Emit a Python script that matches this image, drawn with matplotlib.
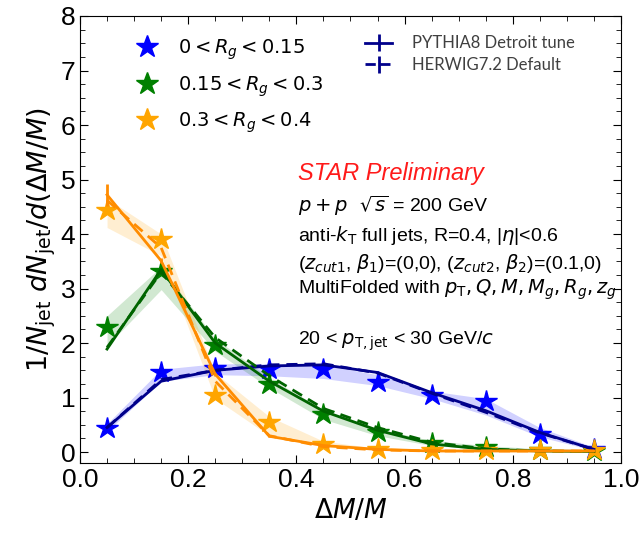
import numpy as np
import matplotlib.pyplot as plt
from matplotlib.ticker import MultipleLocator, FormatStrFormatter

plt.rcParams['font.family'] = ['Liberation Sans', 'DejaVu Sans']
plt.rcParams['mathtext.fontset'] = 'dejavusans'

# bin centres of Delta M / M
x = [0.05, 0.15, 0.25, 0.35, 0.45, 0.55, 0.65, 0.75, 0.85, 0.95]

labels = [r'$0 < R_g < 0.15$', r'$0.15 < R_g < 0.3$', r'$0.3 < R_g < 0.4$']

# STAR data (stars) and systematic band
data_rg1 = [0.45, 1.47, 1.55, 1.52, 1.52, 1.28, 1.05, 0.93, 0.33, 0.05]
band_lo_rg1 = [0.38, 1.30, 1.42, 1.40, 1.35, 1.22, 0.98, 0.68, 0.28, 0.03]
band_hi_rg1 = [0.52, 1.52, 1.62, 1.62, 1.60, 1.42, 1.12, 0.98, 0.45, 0.09]

data_rg2 = [2.30, 3.33, 1.97, 1.25, 0.70, 0.37, 0.17, 0.09, 0.04, 0.02]
band_lo_rg2 = [1.95, 2.98, 1.85, 1.18, 0.60, 0.30, 0.12, 0.05, 0.02, 0.01]
band_hi_rg2 = [2.50, 3.40, 2.08, 1.36, 0.78, 0.43, 0.21, 0.12, 0.06, 0.03]

data_rg3 = [4.44, 3.91, 1.05, 0.55, 0.14, 0.05, 0.03, 0.03, 0.03, 0.03]
band_lo_rg3 = [4.12, 3.60, 0.98, 0.30, 0.10, 0.03, 0.02, 0.02, 0.02, 0.02]
band_hi_rg3 = [4.65, 4.00, 1.45, 0.65, 0.20, 0.07, 0.04, 0.04, 0.04, 0.04]

# PYTHIA8 Detroit tune
pythia_rg1 = [0.45, 1.30, 1.50, 1.58, 1.60, 1.46, 1.09, 0.76, 0.36, 0.05]
pythia_rg2 = [1.89, 3.35, 2.00, 1.30, 0.75, 0.40, 0.15, 0.05, 0.02, 0.01]
pythia_rg3 = [4.72, 3.51, 1.43, 0.29, 0.12, 0.05, 0.02, 0.02, 0.02, 0.02]
pythia_err_rg3 = [0.20, 0.05, 0.03, 0.02, 0.01, 0.01, 0.01, 0.01, 0.01, 0.01]

# HERWIG7.2 Default
herwig_rg1 = [0.45, 1.33, 1.50, 1.60, 1.62, 1.45, 1.08, 0.73, 0.35, 0.05]
herwig_rg2 = [1.92, 3.30, 2.10, 1.40, 0.80, 0.45, 0.18, 0.06, 0.02, 0.01]
herwig_rg3 = [4.62, 3.75, 1.30, 0.30, 0.10, 0.04, 0.02, 0.02, 0.02, 0.02]

star_colors = ['#0000ff', '#008000', '#ffa500']
mc_colors = ['#00008b', '#006400', '#ff8c00']

fig = plt.figure(figsize=(6.43, 5.35), dpi=100)
ax = fig.add_axes([0.1244, 0.1346, 0.8414, 0.8355])

datasets = [
    (data_rg1, band_lo_rg1, band_hi_rg1, pythia_rg1, herwig_rg1, None),
    (data_rg2, band_lo_rg2, band_hi_rg2, pythia_rg2, herwig_rg2, None),
    (data_rg3, band_lo_rg3, band_hi_rg3, pythia_rg3, herwig_rg3, pythia_err_rg3),
]

star_handles = []
for i, (d, lo, hi, py, hw, perr) in enumerate(datasets):
    ax.fill_between(x, lo, hi, color=star_colors[i], alpha=0.18, lw=0, zorder=1)
    h, = ax.plot(x, d, ls='none', marker='*', ms=16, color=star_colors[i],
                 zorder=3, label=labels[i])
    star_handles.append(h)
    ax.errorbar(x, py, yerr=perr, color=mc_colors[i], lw=2, ls='-', zorder=4)
    ax.errorbar(x, hw, color=mc_colors[i], lw=2, ls='--', dashes=(4, 2.5), zorder=4)

# legend entries for the MC curves
h_py = ax.errorbar([], [], yerr=[], color='#00008b', lw=2, ls='-')
h_hw = ax.errorbar([], [], yerr=[], color='#00008b', lw=2, ls='--')

leg1 = ax.legend(handles=star_handles, loc='upper left', bbox_to_anchor=(0.07, 0.99),
                 frameon=False, fontsize=14, labelspacing=0.6, handlelength=1.2,
                 handletextpad=1.0, markerscale=1.05)
ax.add_artist(leg1)
ax.legend([h_py, h_hw], ['PYTHIA8 Detroit tune', 'HERWIG7.2 Default'],
          loc='upper left', bbox_to_anchor=(0.5, 0.99), frameon=False,
          prop={'family': 'Lato', 'size': 12}, labelcolor='#404040',
          labelspacing=0.35, handlelength=1.6, handletextpad=1.2)

tx = 0.403
ax.text(tx, 5.11, 'STAR Preliminary', color='#ff1a1a', fontsize=17, style='italic', va='center')
ax.text(tx, 4.52, r'$p+p\ \ \sqrt{s}$ = 200 GeV', fontsize=14, va='center')
ax.text(tx, 3.97, r'anti-$k_{\mathrm{T}}$ full jets, R=0.4, |$\eta$|<0.6', fontsize=14, va='center')
ax.text(tx, 3.46, r'($z_{cut1}$, $\beta_1$)=(0,0), ($z_{cut2}$, $\beta_2$)=(0.1,0)', fontsize=14, va='center')
ax.text(tx, 2.98, r'MultiFolded with $p_{\mathrm{T}}, Q, M, M_g, R_g, z_g$', fontsize=14, va='center')
ax.text(tx, 2.04, r'20 < $p_{\mathrm{T,jet}}$ < 30 GeV/$c$', fontsize=14, va='center')

ax.set_xlim(0, 1.0)
ax.set_ylim(-0.2, 8)
ax.xaxis.set_major_locator(MultipleLocator(0.2))
ax.xaxis.set_minor_locator(MultipleLocator(0.05))
ax.xaxis.set_major_formatter(FormatStrFormatter('%.1f'))
ax.yaxis.set_major_locator(MultipleLocator(1))
ax.yaxis.set_minor_locator(MultipleLocator(0.25))
ax.tick_params(which='both', direction='in', top=True, right=True, labelsize=19)
ax.tick_params(which='major', length=6)
ax.tick_params(which='minor', length=3.5)

ax.set_xlabel(r'$\Delta M/M$', fontsize=19)
ax.set_ylabel(r'$1/N_{\mathrm{jet}}\ dN_{\mathrm{jet}}/d(\Delta M/M)$', fontsize=19.5, labelpad=2)

fig.savefig('out.png', dpi=100)
